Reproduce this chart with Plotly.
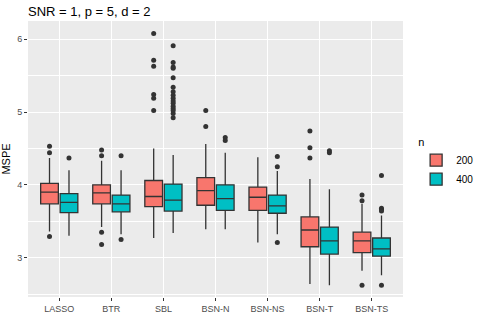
import plotly.graph_objects as go

methods = ["LASSO", "BTR", "SBL", "BSN-N", "BSN-NS", "BSN-T", "BSN-TS"]
groups = ["200", "400"]
colors = {"200": "#F8766D", "400": "#00BFC4"}

# box stats, one list per sample size
q1 = {
    "200": [3.74, 3.74, 3.70, 3.72, 3.65, 3.15, 3.07],
    "400": [3.62, 3.63, 3.64, 3.65, 3.61, 3.05, 3.02],
}
median = {
    "200": [3.90, 3.89, 3.84, 3.92, 3.83, 3.38, 3.23],
    "400": [3.76, 3.74, 3.79, 3.81, 3.71, 3.23, 3.12],
}
q3 = {
    "200": [4.02, 4.00, 4.06, 4.10, 3.97, 3.56, 3.35],
    "400": [3.88, 3.86, 4.01, 4.00, 3.86, 3.42, 3.27],
}
low = {
    "200": [3.36, 3.42, 3.27, 3.39, 3.21, 2.64, 2.82],
    "400": [3.30, 3.32, 3.34, 3.39, 3.32, 2.62, 2.76],
}
high = {
    "200": [4.37, 4.33, 4.50, 4.56, 4.38, 4.08, 3.74],
    "400": [4.20, 4.20, 4.41, 4.44, 4.19, 3.94, 3.58],
}
outliers = {
    "200": [
        [4.53, 4.44, 3.29],
        [4.48, 4.40, 3.35, 3.18],
        [6.08, 5.71, 5.63, 5.24, 5.19, 5.02],
        [5.02, 4.80],
        [],
        [4.74, 4.51, 4.37],
        [3.86, 3.78, 2.62],
    ],
    "400": [
        [4.37],
        [4.40, 3.25],
        [5.91, 5.68, 5.62, 5.60, 5.47, 5.34, 5.28, 5.23, 5.19, 5.15,
         5.12, 5.08, 5.05, 5.02, 4.98, 4.92],
        [4.65, 4.61],
        [4.39, 4.25, 3.21],
        [4.47, 4.44],
        [4.13, 3.68, 3.66, 3.64, 2.62],
    ],
}

dodge = {"200": -0.187, "400": 0.187}
pos = list(range(1, len(methods) + 1))

fig = go.Figure()

for g in groups:
    xs = [p + dodge[g] for p in pos]
    fig.add_trace(go.Box(
        x=xs, q1=q1[g], median=median[g], q3=q3[g],
        lowerfence=low[g], upperfence=high[g],
        name=g, width=0.34, whiskerwidth=0, boxpoints=False,
        fillcolor=colors[g],
        line=dict(color="#333333", width=1.3),
    ))

for g in groups:
    ox, oy = [], []
    for p, vals in zip(pos, outliers[g]):
        ox += [p + dodge[g]] * len(vals)
        oy += vals
    fig.add_trace(go.Scatter(
        x=ox, y=oy, mode="markers", showlegend=False,
        marker=dict(color="#333333", size=5),
    ))

fig.update_layout(
    width=491, height=327,
    margin=dict(l=28, r=63, t=21, b=30),
    paper_bgcolor="white",
    plot_bgcolor="#EBEBEB",
    font=dict(family="Liberation Sans, Arial, sans-serif", color="#4D4D4D", size=9),
    title=dict(text="SNR = 1, p = 5, d = 2", x=0, xref="paper", xanchor="left",
               y=1 - 11 / 327, yref="container", yanchor="middle",
               font=dict(size=13, color="black")),
    xaxis=dict(range=[0.4, 7.6], tickvals=pos, ticktext=methods,
               showgrid=True, gridcolor="white", gridwidth=1.1, zeroline=False,
               ticks="outside", ticklen=3, tickcolor="#333333", tickwidth=1,
               automargin=False),
    yaxis=dict(range=[2.46, 6.25], tickvals=[3, 4, 5, 6],
               showgrid=True, gridcolor="white", gridwidth=1.1, zeroline=False,
               minor=dict(tickvals=[2.5, 3.5, 4.5, 5.5], showgrid=True,
                          gridcolor="white", gridwidth=0.5),
               ticks="outside", ticklen=3, tickcolor="#333333", tickwidth=1,
               title=dict(text="MSPE", font=dict(size=11, color="black"), standoff=4),
               automargin=False),
    legend=dict(title=dict(text="n", font=dict(size=11, color="black")),
                x=1.035, y=0.6, xanchor="left", yanchor="top",
                font=dict(size=10, color="black"), tracegroupgap=0),
    showlegend=True,
)

# drop the browser's default body margin so the figure sits at the page corner
fig.write_html("out.html", config={"displayModeBar": False},
               post_script="document.body.style.margin='0';")
